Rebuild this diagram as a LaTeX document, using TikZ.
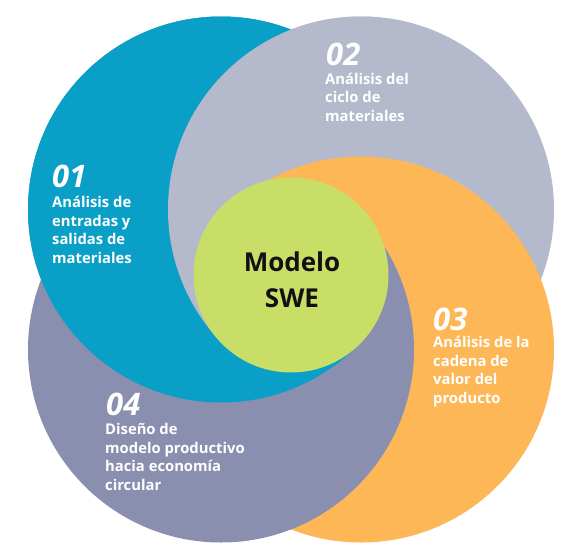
\documentclass[tikz,border=0pt]{standalone}
\usepackage{fontspec}
\setmainfont{Open Sans}
\usetikzlibrary{calc}
\definecolor{swblue}{HTML}{0A9FC6}
\definecolor{swgrey}{HTML}{B4BACB}
\definecolor{sworange}{HTML}{FDB757}
\definecolor{swslate}{HTML}{8A8FB0}
\definecolor{swgreen}{HTML}{C8DE67}
\definecolor{swink}{HTML}{111111}

\newcommand{\labfont}{\bfseries\fontsize{14.8}{18.5}\selectfont}
\newcommand{\numfont}{\bfseries\itshape\fontsize{31}{31}\selectfont}

\tikzset{
  lbl/.style={font=\labfont, text=white, align=left, inner sep=0pt, anchor=base west},
  num/.style={font=\numfont, text=white, inner sep=0pt, anchor=base west},
  core/.style={circle, fill=swgreen, minimum size=195, inner sep=0pt},
  title/.style={align=center, inner sep=0pt, anchor=base, text=swink,
    font=\bfseries\fontsize{26}{36}\selectfont},
}

\begin{document}
\begin{tikzpicture}[x=1pt, y=-1pt]
  \fill[white] (0,0) rectangle (578,555);
  \useasboundingbox (0,0) rectangle (578,555);
  \coordinate (g) at (291,275);
  \coordinate (c1) at (221,209.5);
  \coordinate (c2) at (361,209.5);
  \coordinate (c3) at (361,349.5);
  \coordinate (c4) at (221,349.5);
  % plain stack first, then lift 01, 02, 03 in their own wedges (swirl)
  \foreach \c/\col in {c1/swblue, c2/swgrey, c3/sworange, c4/swslate}
    {\fill[\col] (\c) circle (193);}
  \foreach \c/\col/\from/\to in {c1/swblue/42/315.2, c2/swgrey/136/317.2, c3/sworange/226/319.2} {
    \begin{scope}
      \clip (g) -- ++(\from:800) arc[start angle=\from, end angle=\to, radius=800] -- cycle;
      \fill[\col] (\c) circle (193);
    \end{scope}
  }
  \node[core] (core) at (g) {};
  \node[title] (swe) at (292,307) {Modelo\\SWE};

  \node[num] (n1) at (52,187) {01};
  \node[lbl] (t1) at (52,263) {Análisis de\\entradas y\\salidas de\\materiales};
  \node[num] (n2) at (326,65) {02};
  \node[lbl] (t2) at (325,121) {Análisis del\\ciclo de\\materiales};
  \node[num] (n3) at (433,330) {03};
  \node[lbl] (t3) at (433,403) {Análisis de la\\cadena de\\valor del\\producto};
  \node[num] (n4) at (106,415) {04};
  \node[lbl] (t4) at (105,490) {Diseño de\\modelo productivo\\hacia economía\\circular};
\end{tikzpicture}
\end{document}
